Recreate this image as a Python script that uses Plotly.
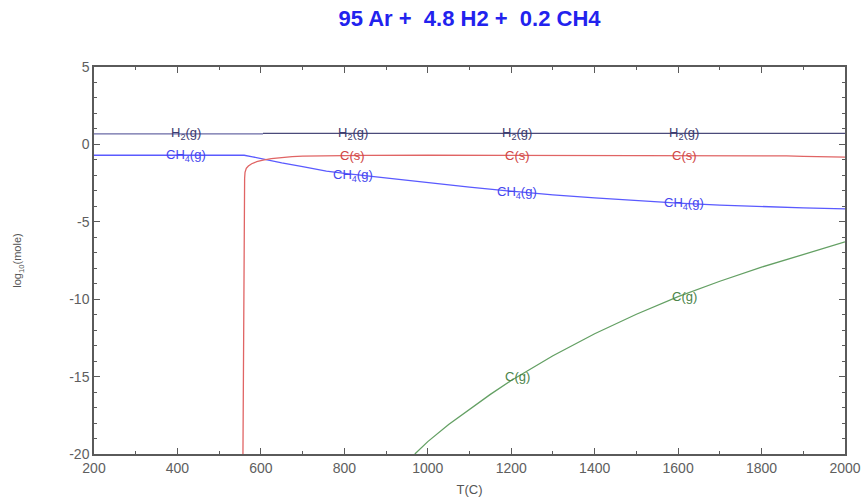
"""
Equilibrium composition of 95 Ar + 4.8 H2 + 0.2 CH4 versus temperature.
Values read off a thermochemical equilibrium plot (log10 of moles).
"""

import plotly.graph_objects as go

# ──────────────────────────────────────────────────────────────────────────────
#  Data
# ──────────────────────────────────────────────────────────────────────────────

# H2(g) is drawn in two pieces: before and after methane decomposes
h2_lo_t = [200, 400, 605]
h2_lo_log = [0.68, 0.68, 0.68]
h2_hi_t = [605, 700, 1000, 1500, 2000]
h2_hi_log = [0.71, 0.715, 0.716, 0.716, 0.716]

ch4_t = [200, 400, 560, 580, 613, 650, 700, 757, 800, 900, 1000, 1100, 1200,
         1300, 1400, 1500, 1600, 1700, 1800, 1900, 2000]
ch4_log = [-0.70, -0.70, -0.70, -0.80, -1.01, -1.20, -1.44, -1.72, -1.87,
           -2.17, -2.47, -2.76, -3.02, -3.26, -3.45, -3.63, -3.79, -3.92,
           -4.02, -4.10, -4.17]

cs_t = [557, 558, 559, 560, 561, 562, 565, 570, 578, 590, 605, 625, 650, 675,
        700, 757, 850, 1000, 1400, 1800, 1860, 1900, 2000]
cs_log = [-20.0, -15.0, -6.0, -3.0, -2.2, -1.8, -1.55, -1.40, -1.25, -1.12,
          -1.01, -0.92, -0.84, -0.79, -0.76, -0.73, -0.71, -0.70, -0.70,
          -0.70, -0.74, -0.78, -0.82]

cg_t = [969, 980, 1000, 1050, 1100, 1150, 1200, 1300, 1400, 1500, 1600, 1700,
        1800, 1900, 2000]
cg_log = [-20.0, -19.7, -19.2, -18.1, -17.1, -16.15, -15.25, -13.65, -12.23,
          -10.97, -9.84, -8.84, -7.93, -7.10, -6.30]

# labels placed along the curves: (T, log10 mole)
h2_label_t = [420, 820, 1215, 1615]
h2_label_y = [0.68, 0.716, 0.716, 0.716]
ch4_label_t = [420, 820, 1215, 1615]
ch4_label_y = [-0.70, -1.98, -3.10, -3.80]
cs_label_t = [820, 1215, 1615]
cs_label_y = [-0.70, -0.70, -0.70]
cg_label_t = [1215, 1615]
cg_label_y = [-15.0, -9.83]

x_ticks = [200, 400, 600, 800, 1000, 1200, 1400, 1600, 1800, 2000]
y_ticks = [5, 0, -5, -10, -15, -20]
y_tick_text = ["5", "0", "-5", "-10", "-15", "-20"]

FONT = "Liberation Sans, Arial, sans-serif"

# ──────────────────────────────────────────────────────────────────────────────
#  Figure
# ──────────────────────────────────────────────────────────────────────────────

lines = [
    ("H2(g)", h2_lo_t, h2_lo_log, "#6a6aa6"),
    ("H2(g)", h2_hi_t, h2_hi_log, "#4a4a7a"),
    ("CH4(g)", ch4_t, ch4_log, "#5a5aff"),
    ("C(s)", cs_t, cs_log, "#e06464"),
    ("C(g)", cg_t, cg_log, "#64a064"),
]

labels = [
    ("H<sub>2</sub>(g)", h2_label_t, h2_label_y, "#3c3c70"),
    ("CH<sub>4</sub>(g)", ch4_label_t, ch4_label_y, "#4646ee"),
    ("C(s)", cs_label_t, cs_label_y, "#d04545"),
    ("C(g)", cg_label_t, cg_label_y, "#4a844a"),
]

fig = go.Figure()
for name, xs, ys, color in lines:
    fig.add_trace(
        go.Scatter(
            x=xs,
            y=ys,
            mode="lines",
            line=dict(color=color, width=1.3),
            name=name,
            showlegend=False,
            hovertemplate=f"<b>{name}</b><br>T=%{{x}} C<br>log10=%{{y:.2f}}<extra></extra>",
        )
    )

for text, lx, ly, color in labels:
    for tx, ty in zip(lx, ly):
        fig.add_annotation(
            x=tx,
            y=ty,
            text=text,
            showarrow=False,
            font=dict(family=FONT, size=13, color=color),
        )

axis_style = dict(
    showline=True,
    linecolor="#5a5a5a",
    linewidth=1.5,
    mirror="ticks",
    ticks="inside",
    ticklen=6,
    tickwidth=1.2,
    tickcolor="#5a5a5a",
    showgrid=False,
    zeroline=False,
    automargin=False,
    tickfont=dict(family=FONT, size=14, color="#5e5e5e"),
)

fig.update_xaxes(
    range=[200, 2000],
    tickvals=x_ticks,
    minor=dict(dtick=100, ticks="inside", ticklen=3, tickcolor="#5a5a5a"),
    title=dict(text="T(C)", font=dict(family=FONT, size=13, color="#555555"), standoff=10),
    **axis_style,
)
fig.update_yaxes(
    range=[-20, 5],
    tickvals=y_ticks,
    ticktext=y_tick_text,
    minor=dict(dtick=1, ticks="inside", ticklen=3, tickcolor="#5a5a5a"),
    title=dict(
        text="log<sub>10</sub>(mole)",
        font=dict(family=FONT, size=11, color="#555555"),
        standoff=45,
    ),
    **axis_style,
)

fig.update_layout(
    width=865,
    height=499,
    plot_bgcolor="white",
    paper_bgcolor="white",
    margin=dict(l=94, r=20, t=67, b=45, autoexpand=False),
    title=dict(
        text="<b>95 Ar +&nbsp; 4.8 H2 +&nbsp; 0.2 CH4</b>",
        x=0.5,
        xref="paper",
        y=0.963,
        yref="container",
        yanchor="middle",
        font=dict(family=FONT, size=22, color="#2222ee"),
    ),
)

# the page's default body margin would shift the fixed-size figure
fig.write_html(
    "out.html",
    config={"displayModeBar": False},
    post_script="document.body.style.margin='0';",
)
